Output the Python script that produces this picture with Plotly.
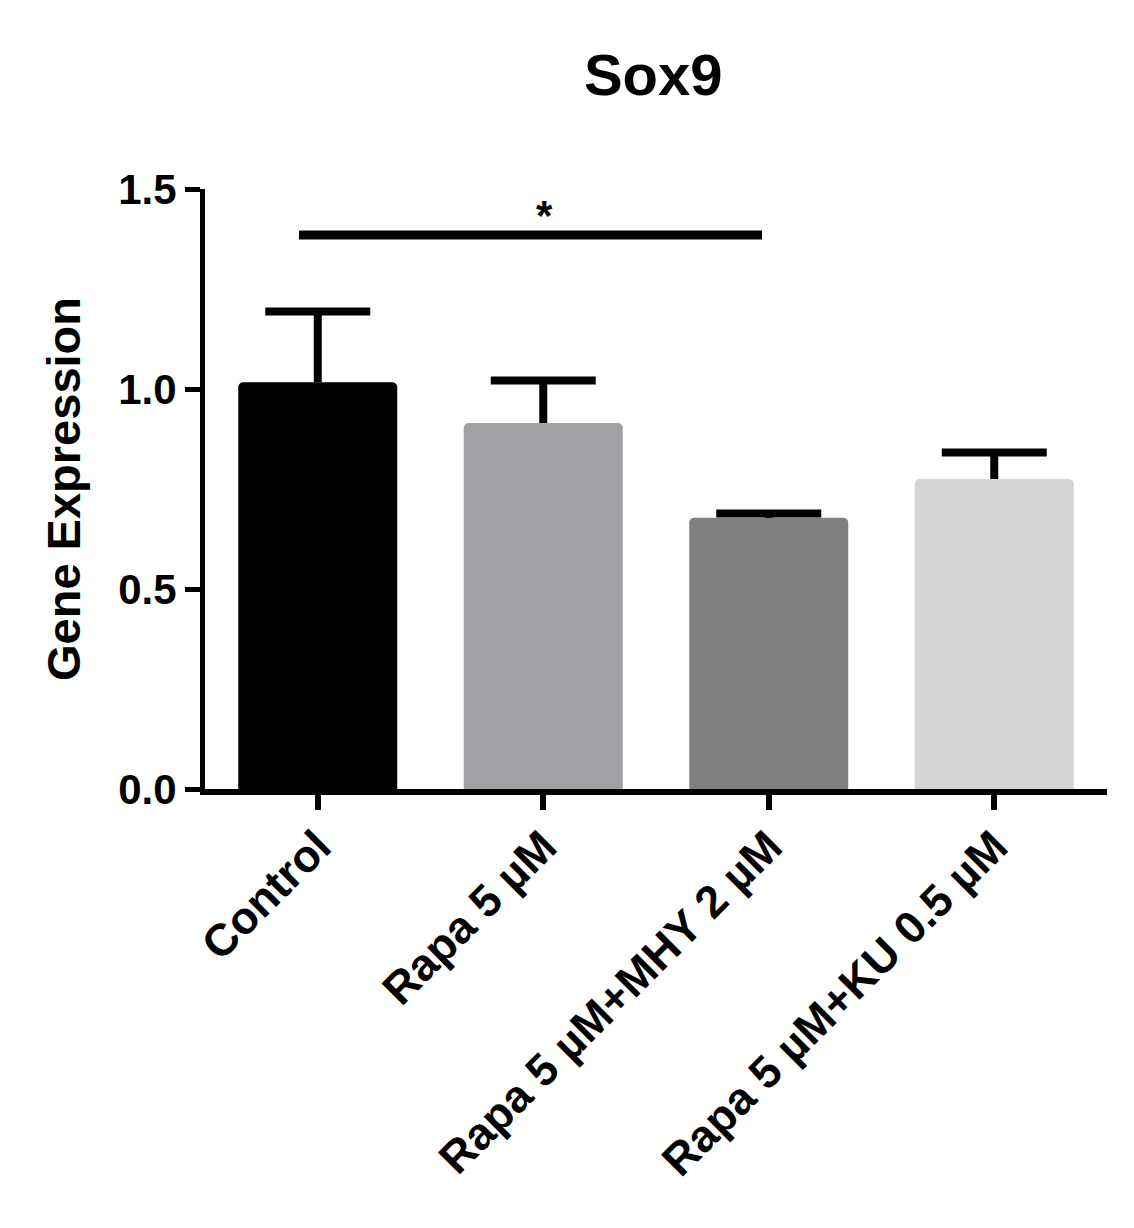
import plotly.graph_objects as go

# data
groups = ["Control", "Rapa 5 µM", "Rapa 5 µM+MHY 2 µM", "Rapa 5 µM+KU 0.5 µM"]
means = [1.017, 0.915, 0.678, 0.775]
errors = [0.177, 0.106, 0.011, 0.066]
bar_colors = ["#000000", "#A1A0A5", "#808080", "#D4D4D4"]

y_ticks = [0.0, 0.5, 1.0, 1.5]

# significance bracket between Control and Rapa 5 µM+MHY 2 µM
sig_x = [-0.083, 1.97]
sig_y = 1.385
sig_label = "*"

FONT = "Liberation Sans, Arial, sans-serif"

x_pos = list(range(len(groups)))
err_tops = [m + e for m, e in zip(means, errors)]

fig = go.Figure()

# bars with upward-only error stems (no caps here)
fig.add_trace(go.Bar(
    x=x_pos, y=means,
    width=0.705,
    marker=dict(color=bar_colors, line=dict(width=0), cornerradius=5),
    error_y=dict(type="data", array=errors, arrayminus=[0] * len(errors),
                 symmetric=False, color="black", thickness=8, width=0),
    showlegend=False,
))

# caps only at the top of each error bar
fig.add_trace(go.Scatter(
    x=x_pos, y=err_tops,
    mode="markers",
    marker=dict(symbol="line-ew", size=75, color="black",
                line=dict(color="black", width=8)),
    showlegend=False, hoverinfo="skip",
))

fig.add_trace(go.Scatter(
    x=sig_x, y=[sig_y, sig_y],
    mode="lines",
    line=dict(color="black", width=9),
    showlegend=False, hoverinfo="skip",
))

fig.add_annotation(
    x=sum(sig_x) / 2 + 0.06, y=sig_y, text=sig_label,
    showarrow=False, yanchor="bottom", yshift=-6,
    font=dict(family=FONT, size=42, color="black", weight="bold"),
)

fig.update_layout(
    width=1134, height=1228,
    paper_bgcolor="white", plot_bgcolor="white",
    margin=dict(l=197, r=35, t=181, b=447),
    title=dict(text="Sox9", x=0.569, xanchor="center", y=0.9454, yanchor="middle",
               font=dict(family=FONT, size=58, color="black", weight="bold")),
    xaxis=dict(
        range=[-0.5, 3.5],
        tickvals=x_pos, ticktext=groups, tickangle=-45,
        tickfont=dict(family=FONT, size=45, color="black", weight="bold"),
        ticks="outside", ticklen=15, tickwidth=6, tickcolor="black",
        ticklabelstandoff=-8,
        showline=True, linecolor="black", linewidth=6,
        showgrid=False, zeroline=False,
    ),
    yaxis=dict(
        range=[0, 1.5],
        tickvals=y_ticks, tickformat=".1f",
        tickfont=dict(family=FONT, size=42, color="black", weight="bold"),
        ticks="outside", ticklen=15, tickwidth=5, tickcolor="black",
        showline=True, linecolor="black", linewidth=5,
        showgrid=False, zeroline=False,
        title=dict(text="Gene Expression", standoff=24,
                   font=dict(family=FONT, size=47, color="black", weight="bold")),
    ),
)

fig.write_html("out.html")
